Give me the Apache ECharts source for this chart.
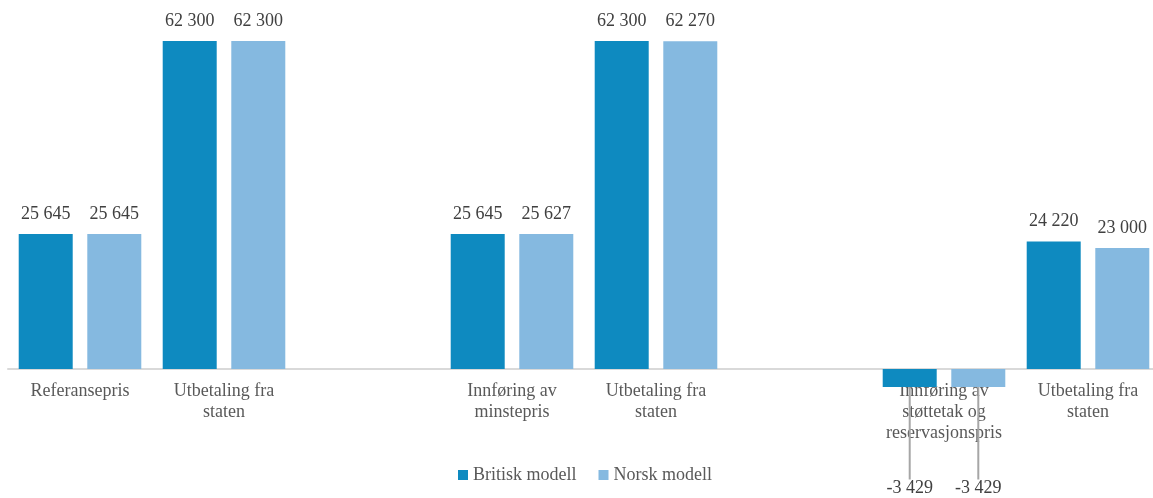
<!DOCTYPE html>
<html>
<head>
<meta charset="utf-8">
<style>
  html, body { margin: 0; padding: 0; background: #ffffff; overflow: hidden; }
  #chart { width: 1160px; height: 498px; }
</style>
<script src="https://cdn.jsdelivr.net/npm/echarts@6/dist/echarts.min.js"></script>
</head>
<body>
<div id="chart"></div>
<script>
// Categories (empty strings leave a spacer slot between the three stages)
const categories = [
  'Referansepris',
  'Utbetaling fra\nstaten',
  '',
  'Innføring av\nminstepris',
  'Utbetaling fra\nstaten',
  '',
  'Innføring av\nstøttetak og\nreservasjonspris',
  'Utbetaling fra\nstaten'
];
const seriesNames = ['Britisk modell', 'Norsk modell'];
const britisk = [25645, 62300, null, 25645, 62300, null, -3429, 24220];
const norsk   = [25645, 62300, null, 25627, 62270, null, -3429, 23000];
const colors = ['#0E8AC0', '#85B9E0'];

const font = 'Liberation Serif, "Times New Roman", serif';

// Norwegian thousands formatting: "62 300", "-3 429"
function fmt(v) {
  const s = Math.abs(v).toString().replace(/\B(?=(\d{3})+(?!\d))/g, ' ');
  return (v < 0 ? '-' : '') + s;
}

function makeSeries(name, values, color) {
  return {
    name: name,
    type: 'bar',
    clip: false,
    barWidth: 54,
    barGap: '27%',
    itemStyle: { color: color },
    data: values.map(v => v === null ? '-' : {
      value: v,
      label: v < 0
        ? { position: 'bottom', padding: [8, 0, 0, 0] }
        : { position: 'top' },
      labelLine: { show: v < 0 }
    }),
    label: {
      show: true,
      distance: 11,
      fontFamily: font,
      fontSize: 18,
      color: '#404040',
      formatter: p => fmt(p.value)
    },
    labelLine: {
      show: false,
      lineStyle: { color: '#a6a6a6', width: 2 }
    },
    labelLayout: function (params) {
      const r = params.rect;
      const v = values[params.dataIndex];
      if (v === null || v >= 0) return {};
      // Negative values: label sits below the axis text, joined by a leader line
      const cx = r.x + r.width / 2;
      const bottom = r.y + r.height;
      const labelY = 488.5;
      const lineEnd = 472;
      return {
        x: cx,
        y: labelY,
        align: 'center',
        verticalAlign: 'middle',
        labelLinePoints: [[cx, bottom], [cx, lineEnd], [cx, lineEnd]]
      };
    }
  };
}

const chart = echarts.init(document.getElementById('chart'), null, { renderer: 'canvas' });
chart.setOption({
  animation: false,
  backgroundColor: '#ffffff',
  textStyle: { fontFamily: font },
  legend: {
    data: seriesNames,
    left: 453,
    top: 461,
    itemWidth: 10,
    itemHeight: 10,
    itemGap: 22,
    icon: 'rect',
    textStyle: { fontFamily: font, fontSize: 18, color: '#595959' }
  },
  // The grid bottom is the zero line; the negative bars hang below it
  grid: {
    left: 8,
    right: 0,
    top: 26.8,
    height: 342.2,
    containLabel: false
  },
  xAxis: {
    type: 'category',
    data: categories,
    axisLine: { lineStyle: { color: '#d9d9d9', width: 2 } },
    axisTick: { show: false },
    axisLabel: {
      interval: 0,
      margin: 12,
      fontFamily: font,
      fontSize: 18,
      lineHeight: 21,
      color: '#595959'
    }
  },
  yAxis: {
    type: 'value',
    min: 0,
    max: 65000,
    show: false,
    splitLine: { show: false }
  },
  series: [
    makeSeries(seriesNames[0], britisk, colors[0]),
    makeSeries(seriesNames[1], norsk, colors[1])
  ]
});
</script>
</body>
</html>
